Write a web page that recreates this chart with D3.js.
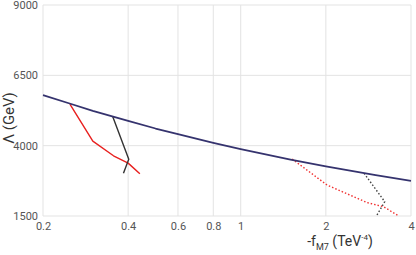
<!DOCTYPE html>
<html>
<head>
<meta charset="utf-8">
<script src="https://cdn.jsdelivr.net/npm/d3@7"></script>
<style>
  body { margin: 0; background: #fff; }
  svg { font-family: Roboto, "Noto Sans", sans-serif; }
</style>
</head>
<body>
<div id="chart"></div>
<script>
// values
const xTicks = [0.2, 0.4, 0.6, 0.8, 1, 2, 4];
const yTicks = [1500, 4000, 6500, 9000];

// unitarity limit (blue)
const limitF = [0.2, 0.25, 0.3, 0.4, 0.5, 0.6, 0.8, 1, 1.5, 2, 3, 4];
const limitL = [5800, 5490, 5240, 4880, 4610, 4410, 4100, 3880, 3505, 3260, 2950, 2745];

// red solid
const redF = [0.249, 0.30, 0.355, 0.40, 0.44];
const redL = [5480, 4160, 3640, 3380, 3000];

// black solid
const blackF = [0.353, 0.402, 0.385];
const blackL = [5030, 3515, 3020];

// red dotted
const redDotF = [1.52, 2.02, 2.8, 3.2, 3.62];
const redDotL = [3526, 2600, 1975, 1830, 1500];

// black dotted
const blackDotF = [2.73, 3.23, 3.02];
const blackDotL = [3018, 2008, 1500];

const width = 416, height = 255;
const margin = { left: 43, right: 5, top: 5, bottom: 39 };

const svg = d3.select('#chart').append('svg')
  .attr('width', width)
  .attr('height', height);

const x = d3.scaleLog()
  .domain([0.2, 4])
  .range([margin.left, width - margin.right]);

const y = d3.scaleLinear()
  .domain([1500, 9000])
  .range([height - margin.bottom, margin.top]);

// grid
svg.append('g')
  .selectAll('line')
  .data(xTicks)
  .enter()
  .append('line')
  .attr('x1', d => x(d))
  .attr('x2', d => x(d))
  .attr('y1', y(9000))
  .attr('y2', y(1500))
  .style('stroke', '#e3e3e3')
  .style('stroke-width', 1);

svg.append('g')
  .selectAll('line')
  .data(yTicks)
  .enter()
  .append('line')
  .attr('x1', x(0.2))
  .attr('x2', x(4))
  .attr('y1', d => y(d))
  .attr('y2', d => y(d))
  .style('stroke', '#e3e3e3')
  .style('stroke-width', 1);

// axes (labels only)
const xAxis = svg.append('g')
  .attr('transform', `translate(0, ${y(1500)})`)
  .call(d3.axisBottom(x).tickValues(xTicks).tickFormat(d3.format('')).tickSize(0).tickPadding(6));
xAxis.select('.domain').remove();
xAxis.selectAll('text')
  .style('font-size', '11px')
  .style('fill', '#555')
  .style('font-family', 'Roboto, sans-serif');

const yAxis = svg.append('g')
  .attr('transform', `translate(${x(0.2)}, 0)`)
  .call(d3.axisLeft(y).tickValues(yTicks).tickFormat(d3.format('')).tickSize(0).tickPadding(5));
yAxis.select('.domain').remove();
yAxis.selectAll('text')
  .style('font-size', '11px')
  .style('fill', '#555')
  .style('font-family', 'Roboto, sans-serif');

// curves
const plot = svg.append('g');
const line = d3.line().x(d => x(d[0])).y(d => y(d[1]));

function drawLine(fs, ls, color, w, dash) {
  const p = plot.append('path')
    .datum(fs.map((f, i) => [f, ls[i]]))
    .attr('d', line)
    .style('fill', 'none')
    .style('stroke', color)
    .style('stroke-width', w)
    .style('stroke-linejoin', 'round');
  if (dash) p.style('stroke-dasharray', dash);
}

drawLine(redF, redL, '#e8201f', 1.4);
drawLine(blackF, blackL, '#333', 1.4);
drawLine(redDotF, redDotL, '#f03030', 1.4, '1.5,2');
drawLine(blackDotF, blackDotL, '#444', 1.4, '1.5,2');
drawLine(limitF, limitL, '#35336e', 1.8);

// axis titles
svg.append('text')
  .attr('transform', `translate(14, 118) rotate(-90)`)
  .attr('text-anchor', 'middle')
  .style('font-size', '15px')
  .style('fill', '#333')
  .text('Λ (GeV)');

const xt = svg.append('text')
  .attr('x', 340)
  .attr('y', 246)
  .attr('text-anchor', 'middle')
  .style('font-size', '14px')
  .style('fill', '#333');
xt.append('tspan').text('-f');
xt.append('tspan').attr('dy', 4).style('font-size', '9px').text('M7');
xt.append('tspan').attr('dy', -4).text(' (TeV');
xt.append('tspan').attr('dy', -6).style('font-size', '8px').text('-4');
xt.append('tspan').attr('dy', 6).text(')');
</script>
</body>
</html>
